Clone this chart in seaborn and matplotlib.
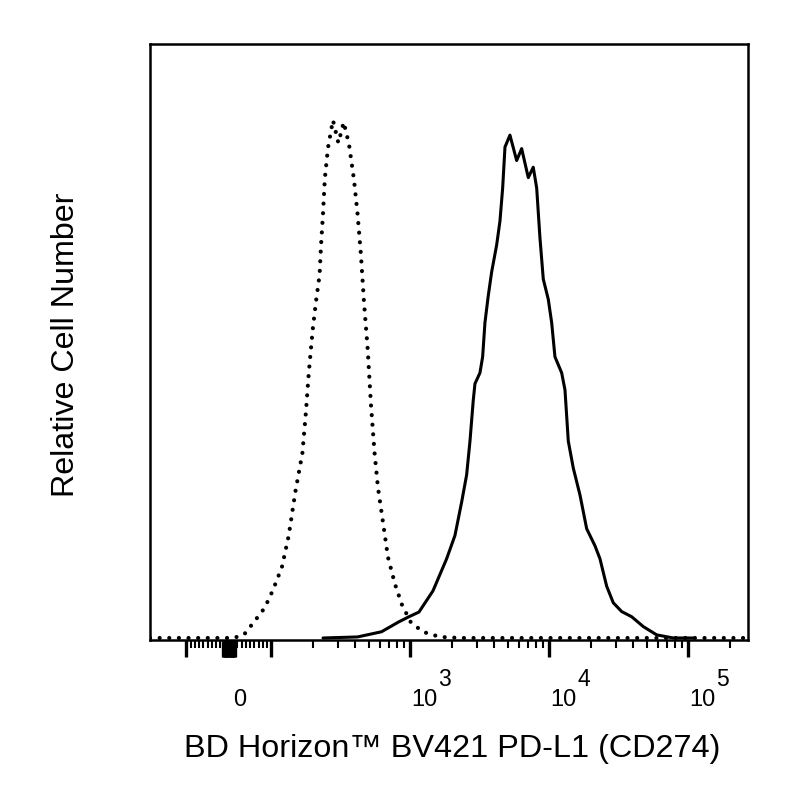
import numpy as np
import pandas as pd
import matplotlib
matplotlib.use("Agg")
import matplotlib.pyplot as plt
from matplotlib.ticker import FixedLocator, FixedFormatter
import matplotlib.transforms as mtransforms
import seaborn as sns

sns.set_style("white")
plt.rcParams['font.family'] = ['Liberation Sans', 'DejaVu Sans']
plt.rcParams['text.color'] = 'black'
plt.rcParams['axes.labelcolor'] = 'black'
plt.rcParams['xtick.color'] = 'black'

# isotype control (dotted) - fluorescence vs relative count
ctrl_x = [-183, 10, 35, 59, 84, 102, 119, 133, 149, 167, 177, 186, 198, 209, 222, 227, 235, 242, 255, 277,
          303, 331, 361, 392, 416, 440, 463, 493, 520, 552, 584, 634, 689, 774, 869, 1003, 1224, 1630, 2289, 268000]
ctrl_y = [0, 0, 0.6, 3.1, 5.8, 9.1, 13.7, 19.7, 28.4, 35.7, 43.6, 51.5, 59.5, 64.9, 70.1, 75.5, 82.0, 88.6, 94.6, 100,
          95.6, 99.6, 95.4, 88.6, 82.0, 74.1, 64.9, 55.6, 45.0, 35.7, 29.0, 22.4, 15.6, 10.4, 6.4, 3.1, 1.2, 0.2, 0, 0]

# PD-L1 stained (solid)
pd_x = [235, 416, 619, 823, 975, 1151, 1452, 1821, 2090, 2337, 2536, 2680, 2830, 2911, 3162, 3306, 3435, 3629, 3839, 4170,
        4404, 4606, 4786, 5196, 5808, 6310, 7039, 7643, 8091, 8546, 9025, 9804, 10370, 10950, 12240, 12930, 13660, 14840,
        16580, 18520, 21250, 23080, 25790, 28770, 33070, 39030, 47300, 59050, 77740, 107800]
pd_y = [0, 0.2, 1.2, 3.1, 4.1, 5.0, 9.1, 15.3, 19.8, 26.3, 31.5, 38.0, 45.9, 49.1, 51.2, 54.3, 60.9, 66.1, 70.7, 75.9,
        80.5, 86.9, 94.8, 97.1, 92.2, 94.5, 88.9, 90.9, 86.9, 77.2, 69.3, 65.4, 60.9, 54.3, 51.2, 47.9, 38.0, 32.8,
        27.6, 21.1, 17.8, 15.3, 10.0, 6.8, 5.1, 4.1, 2.2, 0.6, 0, 0]

major_ticks = [-100.0] + [float(v) for v in range(-14, 15, 2)] + [100.0, 1000.0, 10000.0, 100000.0]
minor_ticks = ([-float(v) for v in range(20, 100, 10)] + [float(v) for v in range(20, 100, 10)] +
               [float(v) for v in range(200, 1000, 100)] + [float(v) for v in range(2000, 10000, 1000)] +
               [float(v) for v in range(20000, 100000, 10000)] + [200000.0])
tick_text = {0: '0', 1000: '10', 10000: '10', 100000: '10'}
exponents = {1000: '3', 10000: '4', 100000: '5'}

ctrl = pd.DataFrame({'x': ctrl_x, 'y': ctrl_y})
stain = pd.DataFrame({'x': pd_x, 'y': pd_y})

fig = plt.figure(figsize=(8, 8), dpi=100)
ax = fig.add_axes([150/800, 160/800, 598/800, 596/800])

sns.lineplot(data=ctrl, x='x', y='y', ax=ax, color='black', lw=3.0,
             linestyle=(0, (0.01, 2.3)), dash_capstyle='round', estimator=None)
sns.lineplot(data=stain, x='x', y='y', ax=ax, color='black', lw=2.2, estimator=None)

ax.set_xscale('symlog', linthresh=100, linscale=0.275)
ax.set_xlim(-183, 268000)
ax.set_ylim(-0.39, 114.7)

ax.xaxis.remove_overlapping_locs = False
ax.xaxis.set_major_locator(FixedLocator(major_ticks))
ax.xaxis.set_minor_locator(FixedLocator(minor_ticks))
ax.xaxis.set_major_formatter(FixedFormatter([tick_text.get(int(t), '') for t in major_ticks]))
ax.xaxis.set_minor_formatter(FixedFormatter([]))
ax.set_yticks([])
ax.tick_params(axis='x', which='both', bottom=True, direction='out', color='black')
ax.tick_params(axis='x', which='major', length=12, width=2.4, pad=23, labelsize=17)
ax.tick_params(axis='x', which='minor', length=5.8, width=1.5)

# labels sit a little right of their ticks
for t, lab in zip(major_ticks, ax.get_xticklabels()):
    dx = 11 if t == 0 else 14
    lab.set_transform(lab.get_transform() +
                      mtransforms.ScaledTranslation(dx/100, 0, fig.dpi_scale_trans))

# exponents of the decade labels
for t, e in exponents.items():
    ax.annotate(e, xy=(t, 0), xycoords=('data', 'axes fraction'),
                xytext=(20, -33), textcoords='offset points',
                ha='left', va='baseline', fontsize=16.5)

for s in ax.spines.values():
    s.set_color('black')
    s.set_linewidth(1.8)

ax.set_xlabel('BD Horizon\u2122 BV421 PD-L1 (CD274)', fontsize=23.3)
ax.set_ylabel('Relative Cell Number', fontsize=23.2)
ax.xaxis.set_label_coords(0.505, -0.158)
ax.xaxis.label.set_va('top')
ax.yaxis.set_label_coords(-0.116, 0.495)

fig.savefig('out.png', dpi=100)
